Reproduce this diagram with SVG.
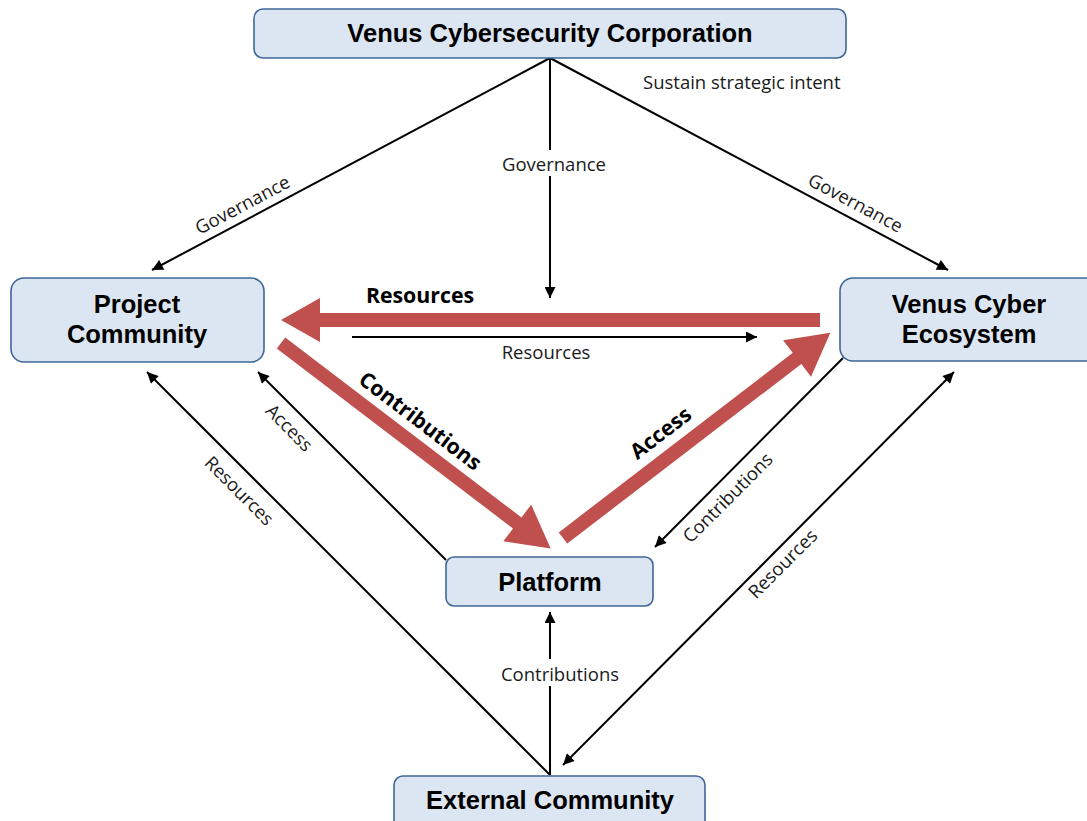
<svg xmlns="http://www.w3.org/2000/svg" width="1087" height="821" viewBox="0 0 1087 821">
<defs>
<style>
.node rect{fill:#DCE6F2;stroke:#3F6797;stroke-width:1.6}
.title{font-family:"Liberation Sans",Arial,sans-serif;font-weight:bold;font-size:25.5px;fill:#000;text-anchor:middle}
.lbl{font-family:"Open Sans","DejaVu Sans",sans-serif;font-size:18.5px;fill:#1a1a1a;text-anchor:middle;dominant-baseline:central}
.big{font-family:"Open Sans","DejaVu Sans",sans-serif;font-weight:bold;font-size:21.3px;fill:#000;text-anchor:middle;dominant-baseline:central}
.ln{stroke:#000;stroke-width:2;fill:none}
.red{fill:#C0504D}
</style>
<marker id="ah" viewBox="0 0 10 10" refX="10" refY="5" markerWidth="12" markerHeight="11" markerUnits="userSpaceOnUse" orient="auto-start-reverse">
<path d="M0,0 L10,5 L0,10 z" fill="#000"/>
</marker>
</defs>
<rect width="1087" height="821" fill="#fff"/>

<g id="connectors">
<line class="ln" x1="550" y1="58" x2="152" y2="270" marker-end="url(#ah)"/>
<line class="ln" x1="550" y1="58" x2="550" y2="298" marker-end="url(#ah)"/>
<line class="ln" x1="550" y1="58" x2="948" y2="270" marker-end="url(#ah)"/>
<line class="ln" x1="352" y1="337" x2="757" y2="337" marker-end="url(#ah)"/>
<line class="ln" x1="446" y1="560" x2="258" y2="372" marker-end="url(#ah)"/>
<line class="ln" x1="550" y1="775" x2="147" y2="372" marker-end="url(#ah)"/>
<line class="ln" x1="843" y1="358" x2="655" y2="547" marker-end="url(#ah)"/>
<line class="ln" x1="954" y1="372" x2="563" y2="765" marker-start="url(#ah)" marker-end="url(#ah)"/>
<line class="ln" x1="550" y1="775" x2="550" y2="612" marker-end="url(#ah)"/>

<polygon class="red" transform="translate(820,320) rotate(180)" points="0,-7 500,-7 500,-22 539,0 500,22 500,7 0,7"/>
<polygon class="red" transform="translate(281,343) rotate(37.3)" points="0,-7 297,-7 297,-23 339,0 297,23 297,7 0,7"/>
<polygon class="red" transform="translate(563,538) rotate(-37.5)" points="0,-7 295,-7 295,-23 337,0 295,23 295,7 0,7"/>

<text class="lbl" transform="translate(242,204) rotate(-28)">Governance</text>
<rect x="496" y="150" width="118" height="26" fill="#fff"/>
<text class="lbl" x="554" y="163">Governance</text>
<text class="lbl" transform="translate(856,202) rotate(28)">Governance</text>
<text class="lbl" x="643" y="81" style="text-anchor:start">Sustain strategic intent</text>
<text class="lbl" x="546" y="351">Resources</text>
<text class="lbl" transform="translate(290,427) rotate(45)">Access</text>
<text class="lbl" transform="translate(240,490) rotate(45)">Resources</text>
<text class="lbl" transform="translate(727,497) rotate(-45)">Contributions</text>
<text class="lbl" transform="translate(782,563) rotate(-45)">Resources</text>
<rect x="492" y="659" width="136" height="27" fill="#fff"/>
<text class="lbl" x="560" y="673">Contributions</text>

<text class="big" x="420" y="294">Resources</text>
<text class="big" transform="translate(421,420) rotate(37.3)">Contributions</text>
<text class="big" transform="translate(660,432) rotate(-37.5)">Access</text>
</g>

<g id="node-corp" class="node">
<rect x="254" y="9" width="592" height="49" rx="9"/>
<text class="title" x="550" y="42">Venus Cybersecurity Corporation</text>
</g>
<g id="node-project" class="node">
<rect x="11" y="278" width="253" height="84" rx="13"/>
<text class="title" x="137" y="313">Project</text>
<text class="title" x="137" y="343">Community</text>
</g>
<g id="node-ecosystem" class="node">
<rect x="840" y="278" width="260" height="83" rx="13"/>
<text class="title" x="969" y="313">Venus Cyber</text>
<text class="title" x="969" y="343">Ecosystem</text>
</g>
<g id="node-platform" class="node">
<rect x="446" y="557" width="207" height="49" rx="8"/>
<text class="title" x="550" y="591">Platform</text>
</g>
<g id="node-external" class="node">
<rect x="394" y="776" width="311" height="60" rx="9"/>
<text class="title" x="550" y="809">External Community</text>
</g>
</svg>
